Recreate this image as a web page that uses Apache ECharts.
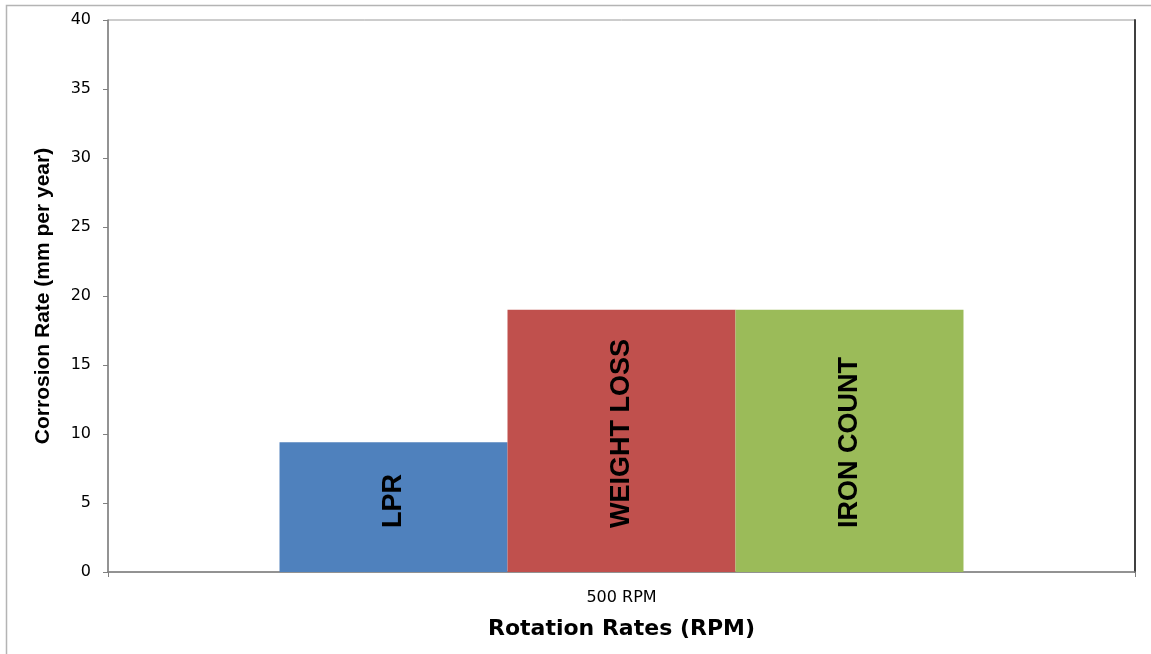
<!DOCTYPE html>
<html>
<head>
<meta charset="utf-8">
<script src="https://cdn.jsdelivr.net/npm/echarts@6/dist/echarts.min.js"></script>
<style>
  html, body { margin: 0; padding: 0; background: #fff; }
  #main { width: 1151px; height: 654px; }
</style>
</head>
<body>
<div id="main"></div>
<script>
const categories = ["500 RPM"];
const seriesNames = ["LPR", "WEIGHT LOSS", "IRON COUNT"];
const lpr = [9.4];
const weightLoss = [19.0];
const ironCount = [19.0];
const colors = ["#4F81BD", "#C0504D", "#9BBB59"];

const chart = echarts.init(document.getElementById("main"));

const barLabel = {
  show: true,
  formatter: "{a}",
  rotate: 90,
  position: "insideBottom",
  distance: 44,
  align: "left",
  verticalAlign: "middle",
  color: "#000",
  fontFamily: "Liberation Sans",
  fontWeight: "bold",
  fontSize: 27,
};

chart.setOption({
  animation: false,
  graphic: [
    {
      type: "rect",
      shape: { x: 6.5, y: 5.5, width: 1200, height: 700 },
      style: { fill: "none", stroke: "#b4b4b4", lineWidth: 1.5 },
      silent: true,
    },
  ],
  grid: {
    left: 108,
    top: 20,
    right: 16,
    bottom: 82,
    show: true,
    borderColor: "#9a9a9a",
    borderWidth: 1,
  },
  xAxis: {
    type: "category",
    data: categories,
    name: "Rotation Rates (RPM)",
    nameLocation: "middle",
    nameGap: 46,
    nameTextStyle: {
      fontFamily: "DejaVu Sans",
      fontWeight: "bold",
      fontSize: 22,
      color: "#000",
    },
    axisLine: { lineStyle: { color: "#808080", width: 1.5 } },
    axisTick: { show: true, length: 5, lineStyle: { color: "#808080" } },
    axisLabel: {
      margin: 18,
      fontFamily: "DejaVu Sans",
      fontSize: 16,
      color: "#000",
    },
  },
  yAxis: [
    {
      type: "value",
      min: 0,
      max: 40,
      interval: 5,
      name: "Corrosion Rate (mm per year)",
      nameLocation: "middle",
      nameGap: 54,
      nameTextStyle: {
        fontFamily: "Liberation Sans",
        fontWeight: "bold",
        fontSize: 21,
        color: "#000",
      },
      axisLine: { show: true, lineStyle: { color: "#808080", width: 1.5 } },
      axisTick: { show: true, length: 5, lineStyle: { color: "#808080" } },
      splitLine: { show: false },
      axisLabel: {
        margin: 17,
        fontFamily: "DejaVu Sans",
        fontSize: 16,
        color: "#000",
      },
    },
    {
      type: "value",
      min: 0,
      max: 40,
      interval: 5,
      position: "right",
      axisLine: { show: true, lineStyle: { color: "#404040", width: 2 } },
      axisTick: { show: false },
      axisLabel: { show: false },
      splitLine: { show: false },
    },
  ],
  series: [
    {
      name: seriesNames[0],
      type: "bar",
      data: lpr,
      itemStyle: { color: colors[0] },
      barGap: 0,
      barCategoryGap: "33.4%",
      label: barLabel,
    },
    {
      name: seriesNames[1],
      type: "bar",
      data: weightLoss,
      itemStyle: { color: colors[1] },
      barGap: 0,
      barCategoryGap: "33.4%",
      label: barLabel,
    },
    {
      name: seriesNames[2],
      type: "bar",
      data: ironCount,
      itemStyle: { color: colors[2] },
      barGap: 0,
      barCategoryGap: "33.4%",
      label: barLabel,
    },
  ],
});
</script>
</body>
</html>
